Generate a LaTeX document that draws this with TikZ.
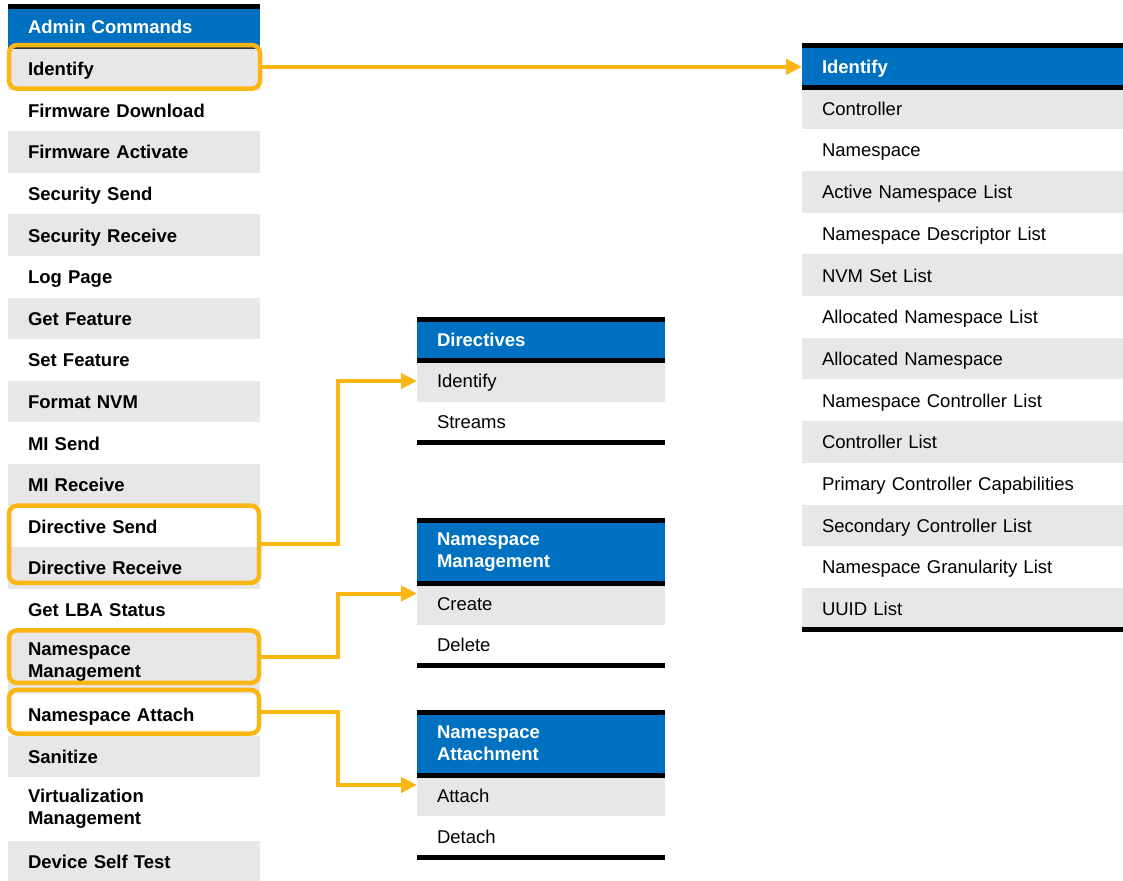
\documentclass[tikz,border=0pt]{standalone}
\usepackage{fontspec}
\setmainfont{Liberation Sans}
\usetikzlibrary{arrows.meta,calc,fit}
\definecolor{hdrblue}{RGB}{0,112,192}
\definecolor{rowgrey}{RGB}{231,231,231}
\definecolor{hlorange}{RGB}{252,182,20}
\newcommand{\cellfont}{\fontsize{9.25}{11}\selectfont}

\begin{document}
\begin{tikzpicture}[x=0.5pt,y=-0.5pt,
  cell/.style={rectangle, anchor=north west, inner xsep=10pt, inner ysep=0pt,
               outer sep=0pt, align=left, font=\cellfont,
               text height=6.9pt, text depth=0pt},
  twoline/.style={text height=, text depth=},
  lrow/.style={cell, text width=106pt, minimum height=20.8pt, font=\cellfont\bfseries},
  lrowtwo/.style={lrow, twoline, minimum height=31.75pt},
  mrow/.style={cell, text width=104pt, minimum height=20.5pt},
  rrow/.style={cell, text width=140.5pt, minimum height=20.85pt},
  shade/.style={fill=rowgrey},
  head/.style={fill=hdrblue, text=white, font=\cellfont\bfseries},
  rule/.style={line width=2.5pt, black},
  hl/.style={draw=hlorange, line width=2.25pt, rounded corners=4pt, inner sep=0pt, outer sep=0pt},
  link/.style={draw=hlorange, line width=2pt, -{Triangle[length=8pt,width=7.5pt]}}
]
\useasboundingbox (0,0) rectangle (1123,880);

% ---- Admin command list ----
\node[lrow, head, minimum height=21pt] (lH) at (8,6) {Admin Commands};
\node[lrow, shade] (l1)  at (lH.south west)  {Identify};
\node[lrow]        (l2)  at (l1.south west)  {Firmware Download};
\node[lrow, shade] (l3)  at (l2.south west)  {Firmware Activate};
\node[lrow]        (l4)  at (l3.south west)  {Security Send};
\node[lrow, shade] (l5)  at (l4.south west)  {Security Receive};
\node[lrow]        (l6)  at (l5.south west)  {Log Page};
\node[lrow, shade] (l7)  at (l6.south west)  {Get Feature};
\node[lrow]        (l8)  at (l7.south west)  {Set Feature};
\node[lrow, shade] (l9)  at (l8.south west)  {Format NVM};
\node[lrow]        (l10) at (l9.south west)  {MI Send};
\node[lrow, shade] (l11) at (l10.south west) {MI Receive};
\node[lrow]        (l12) at (l11.south west) {Directive Send};
\node[lrow, shade] (l13) at (l12.south west) {Directive Receive};
\node[lrow]        (l14) at (l13.south west) {Get LBA Status};
\node[lrowtwo, shade] (l15) at (l14.south west) {Namespace\\Management};
\node[lrow]        (l16) at (l15.south west) {Namespace Attach};
\node[lrow, shade] (l17) at (l16.south west) {Sanitize};
\node[lrowtwo]     (l18) at (l17.south west) {Virtualization\\Management};
\node[lrow, shade] (l19) at (l18.south west) {Device Self Test};
\draw[rule] (lH.north west) -- (lH.north east);
\draw[line width=1pt, black!80] (lH.south west) -- (lH.south east);

% ---- Identify sub-list ----
\node[rrow, head, minimum height=21pt] (rH) at (802,45.5) {Identify};
\node[rrow, shade] (r1)  at (rH.south west)  {Controller};
\node[rrow]        (r2)  at (r1.south west)  {Namespace};
\node[rrow, shade] (r3)  at (r2.south west)  {Active Namespace List};
\node[rrow]        (r4)  at (r3.south west)  {Namespace Descriptor List};
\node[rrow, shade] (r5)  at (r4.south west)  {NVM Set List};
\node[rrow]        (r6)  at (r5.south west)  {Allocated Namespace List};
\node[rrow, shade] (r7)  at (r6.south west)  {Allocated Namespace};
\node[rrow]        (r8)  at (r7.south west)  {Namespace Controller List};
\node[rrow, shade] (r9)  at (r8.south west)  {Controller List};
\node[rrow]        (r10) at (r9.south west)  {Primary Controller Capabilities};
\node[rrow, shade] (r11) at (r10.south west) {Secondary Controller List};
\node[rrow]        (r12) at (r11.south west) {Namespace Granularity List};
\node[rrow, shade] (r13) at (r12.south west) {UUID List};
\draw[rule] (rH.north west) -- (rH.north east);
\draw[rule] (rH.south west) -- (rH.south east);
\draw[rule] (r13.south west) -- (r13.south east);

% ---- Directives ----
\node[mrow, head] (dH) at (417,319.5) {Directives};
\node[mrow, shade] (d1) at (dH.south west) {Identify};
\node[mrow]        (d2) at (d1.south west) {Streams};
\draw[rule] (dH.north west) -- (dH.north east);
\draw[rule] (dH.south west) -- (dH.south east);
\draw[rule] (d2.south west) -- (d2.south east);

% ---- Namespace Management ----
\node[mrow, head, twoline, minimum height=31.5pt] (mH) at (417,520.5) {Namespace\\Management};
\node[mrow, shade] (m1) at (mH.south west) {Create};
\node[mrow]        (m2) at (m1.south west) {Delete};
\draw[rule] (mH.north west) -- (mH.north east);
\draw[rule] (mH.south west) -- (mH.south east);
\draw[rule] (m2.south west) -- (m2.south east);

% ---- Namespace Attachment ----
\node[mrow, head, twoline, minimum height=31.5pt] (aH) at (417,712) {Namespace\\Attachment};
\node[mrow, shade] (a1) at (aH.south west) {Attach};
\node[mrow]        (a2) at (a1.south west) {Detach};
\draw[rule] (aH.north west) -- (aH.north east);
\draw[rule] (aH.south west) -- (aH.south east);
\draw[rule] (a2.south west) -- (a2.south east);

% ---- highlight frames ----
\node[hl, fit={($(l1.north west)+(1,-3)$) ($(l1.south east)+(0,-1)$)}] (bId) {};
\node[hl, fit={($(l12.north west)+(1,0)$) ($(l13.south east)+(-1,-6)$)}] (bDir) {};
\node[hl, fit={($(l15.north west)+(1,0)$) ($(l15.south east)+(-1,-11)$)}] (bNM) {};
\node[hl, fit={($(l16.north west)+(1,-4)$) ($(l16.south east)+(-1,-2)$)}] (bNA) {};

% ---- connectors ----
\coordinate (jx) at (338,0);
\coordinate (mIn) at ($(m1.north west)+(0,10)$);
\coordinate (aIn) at ($(a1.north west)+(0,10)$);
\draw[link] (bId.east) -- (bId.east -| rH.west);
\draw[link] (bDir.east) -| (jx |- d1.west) -- (d1.west);
\draw[link] (bNM.east) -| (jx |- mIn) -- (mIn);
\draw[link] (bNA.east) -| (jx |- aIn) -- (aIn);
\end{tikzpicture}
\end{document}
